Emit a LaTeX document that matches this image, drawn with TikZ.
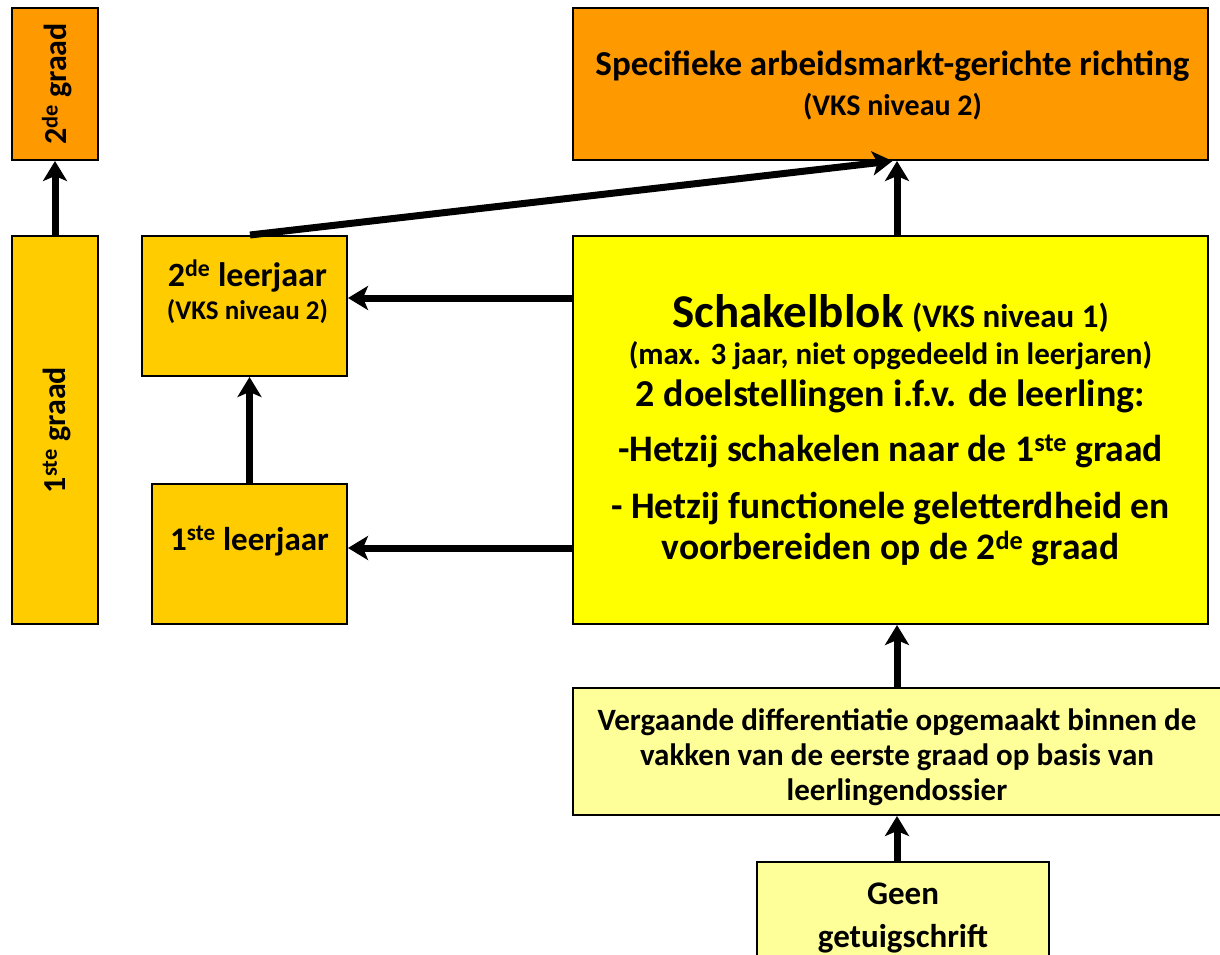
\documentclass[tikz,border=0pt]{standalone}
\usepackage{fontspec}
\setmainfont{Carlito}
\usetikzlibrary{arrows.meta,calc}
\definecolor{orng}{HTML}{FF9900}
\definecolor{gold}{HTML}{FFCC00}
\definecolor{yel}{HTML}{FFFF00}
\definecolor{lyel}{HTML}{FFFF99}
\tikzset{
  box/.style={draw=black, line width=2pt, inner sep=0pt},
  txt/.style={font=\bfseries, align=center, inner sep=0pt, anchor=base},
  arr/.style={line width=7pt, -{Stealth[length=20pt,width=24pt,inset=5pt]}},
}
\newcommand{\fs}[2]{\fontsize{#1}{#2}\selectfont}
\begin{document}
\begin{tikzpicture}[x=1pt,y=-1pt]
\path[use as bounding box] (0,0) rectangle (1220,955);
\clip (0,0) rectangle (1220,955);
\fill[white] (0,0) rectangle (1220,955);
% boxes
\node[box, fill=orng, minimum width=86pt, minimum height=152pt] (g2) at (55,84) {};
\node[box, fill=gold, minimum width=86pt, minimum height=388pt] (g1) at (55,430) {};
\node[box, fill=gold, minimum width=205pt, minimum height=140pt] (l2) at (244.5,306) {};
\node[box, fill=gold, minimum width=195pt, minimum height=140pt] (l1) at (249.5,554) {};
\node[box, fill=orng, minimum width=635pt, minimum height=152pt] (spec) at (890.5,84) {};
\node[box, fill=yel, minimum width=635pt, minimum height=388pt] (schakel) at (890.5,430) {};
\node[box, fill=lyel, minimum width=654pt, minimum height=127pt] (verg) at (900,751.5) {};
\node[box, fill=lyel, minimum width=292pt, minimum height=110pt] (geen) at (903,917) {};
% texts (anchor base = baseline of the last line)
\node[txt, anchor=center, rotate=90, font=\bfseries\fs{32}{36}] (g2t) at ($(g2.center)+(2,0)$) {2\textsuperscript{de} graad};
\node[txt, anchor=center, rotate=90, font=\bfseries\fs{32}{36}] (g1t) at ($(g1.center)+(2,0)$) {1\textsuperscript{ste} graad};
\node[txt, font=\bfseries\fs{34}{33}] (l2t) at ($(l2.north)+(3,84)$)
  {2\textsuperscript{de} leerjaar\\{\fs{27}{30}(VKS niveau 2)}};
\node[txt, font=\bfseries\fs{33}{36}] (l1t) at ($(l1.north)+(0,67)$) {1\textsuperscript{ste} leerjaar};
\node[txt, font=\bfseries\fs{35}{42}] (spect) at ($(spec.north)+(2,109)$)
  {Specifieke arbeidsmarkt-gerichte richting\\[-2pt]{\fs{30}{34}(VKS niveau 2)}};
\node[txt, font=\bfseries\fs{37.5}{43}] (schakelt) at ($(schakel.north)+(0,324)$)
  {{\fs{47}{50}Schakelblok} {\fs{33}{36}(VKS niveau 1)}\\[-6pt]
   {\fs{31}{34}(max. 3 jaar, niet opgedeeld in leerjaren)}\\[-1pt]
   {\fs{38}{43}2 doelstellingen i.f.v. de leerling:}\\[12pt]
   -Hetzij schakelen naar de 1\textsuperscript{ste} graad\\[14pt]
   - Hetzij functionele geletterdheid en\\[-2pt]
   voorbereiden op de 2\textsuperscript{de} graad};
\node[txt, font=\bfseries\fs{31}{35}] (vergt) at ($(verg.north)+(-3,113)$)
  {Vergaande differentiatie opgemaakt binnen de\\
   vakken van de eerste graad op basis van\\
   leerlingendossier};
\node[txt, font=\bfseries\fs{33}{43}] (geent) at ($(geen.north)+(0,86)$) {Geen\\getuigschrift};
% connectors
\draw[arr] (g1.north) -- (g2.south);
\draw[arr] (l1.north) -- (l1.north |- l2.south);
\draw[arr] ($(schakel.north)+(6.5,0)$) -- ($(spec.south)+(6.5,0)$);
\draw[arr] ($(l2.north)+(5.5,0)$) -- ($(spec.south)+(2,0)$);
\draw[arr] ($(schakel.west |- l2.east)+(0,-8)$) -- ($(l2.east)+(0,-8)$);
\draw[arr] ($(schakel.west |- l1.east)+(0,-6)$) -- ($(l1.east)+(0,-6)$);
\draw[arr] ($(verg.north)+(-3,0)$) -- ($(schakel.south)+(6.5,0)$);
\draw[arr] ($(geen.north)+(-6,0)$) -- ($(verg.south)+(-3,0)$);
\end{tikzpicture}
\end{document}
